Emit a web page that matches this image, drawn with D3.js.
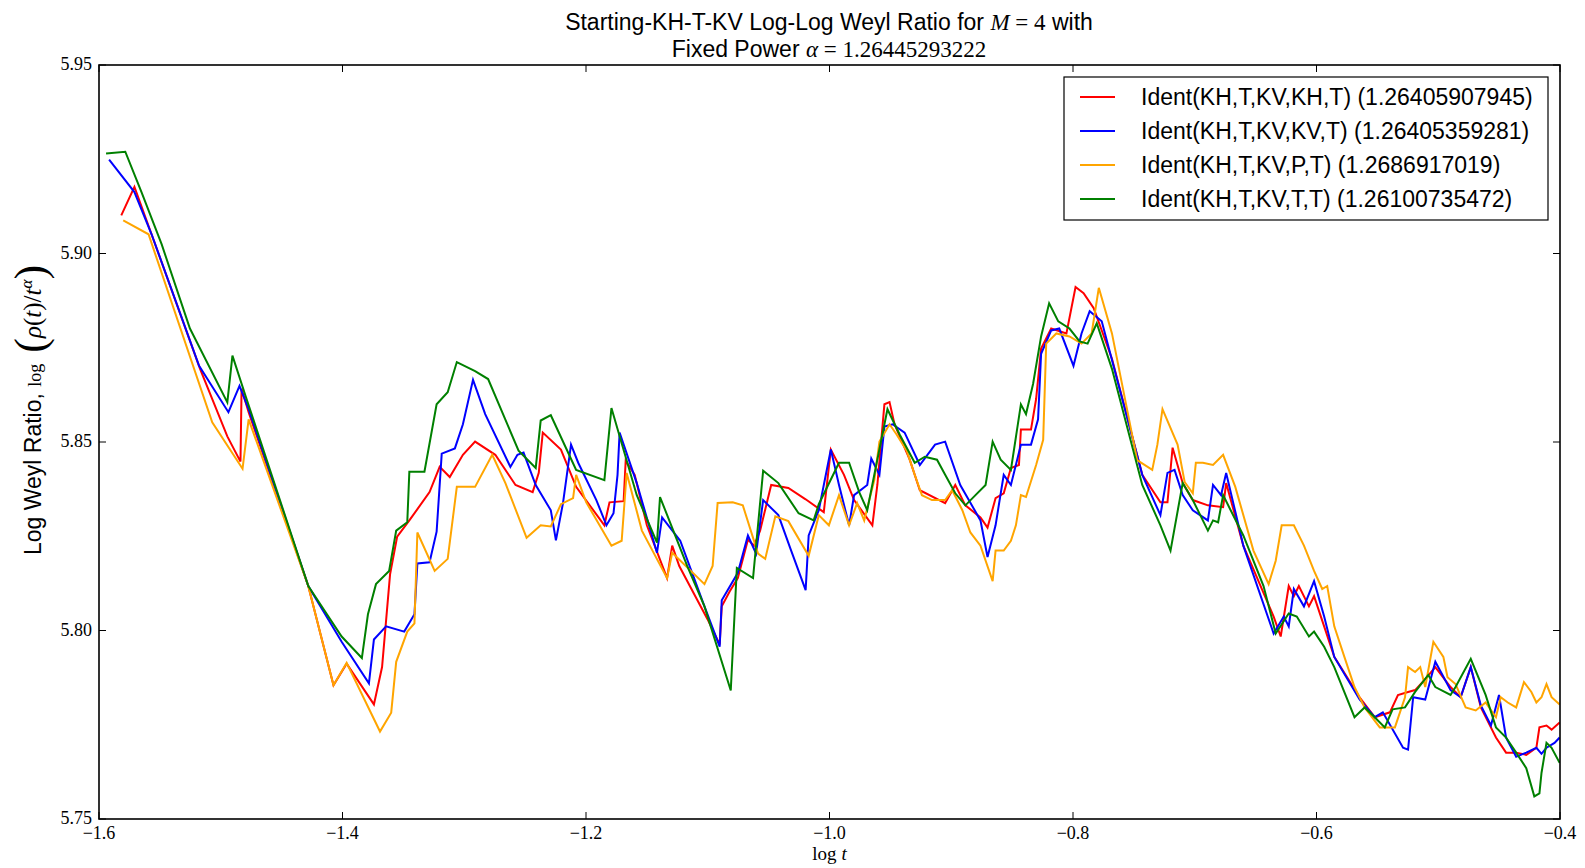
<!DOCTYPE html>
<html><head><meta charset="utf-8">
<script src="https://cdn.jsdelivr.net/npm/d3@7"></script>
<style>body{margin:0;background:#fff;} svg{display:block;}</style>
</head><body>
<svg id="c" width="1585" height="868"></svg>
<script>
const xTicks = [-1.6,-1.4,-1.2,-1.0,-0.8,-0.6,-0.4];
const xTickLabels = ["\u22121.6","\u22121.4","\u22121.2","\u22121.0","\u22120.8","\u22120.6","\u22120.4"];
const yTicks = [5.75,5.80,5.85,5.90,5.95];
const yTickLabels = ["5.75","5.80","5.85","5.90","5.95"];
const seriesNames = ["Ident(KH,T,KV,KH,T) (1.26405907945)","Ident(KH,T,KV,KV,T) (1.26405359281)","Ident(KH,T,KV,P,T) (1.2686917019)","Ident(KH,T,KV,T,T) (1.26100735472)"];
const seriesColors = ["#ff0000","#0000ff","#ffa500","#008000"];

const redData = [[-1.5817,5.9101],[-1.5709,5.9177],[-1.5170,5.8694],[-1.4946,5.8515],[-1.4838,5.8448],[-1.4829,5.8641],[-1.4771,5.8579],[-1.4281,5.8118],[-1.4074,5.7855],[-1.3966,5.7912],[-1.3742,5.7804],[-1.3675,5.7903],[-1.3609,5.8150],[-1.3551,5.8249],[-1.3451,5.8292],[-1.3285,5.8367],[-1.3202,5.8434],[-1.3119,5.8407],[-1.3011,5.8466],[-1.2911,5.8501],[-1.2745,5.8466],[-1.2579,5.8386],[-1.2438,5.8367],[-1.2388,5.8418],[-1.2355,5.8525],[-1.2206,5.8480],[-1.2081,5.8381],[-1.1849,5.8279],[-1.1807,5.8340],[-1.1691,5.8343],[-1.1674,5.8450],[-1.1600,5.8413],[-1.1500,5.8279],[-1.1334,5.8139],[-1.1292,5.8225],[-1.1234,5.8171],[-1.1002,5.8030],[-1.0902,5.7963],[-1.0885,5.8064],[-1.0819,5.8104],[-1.0753,5.8139],[-1.0670,5.8241],[-1.0620,5.8225],[-1.0570,5.8265],[-1.0479,5.8386],[-1.0338,5.8378],[-1.0196,5.8348],[-1.0047,5.8314],[-0.9989,5.8480],[-0.9881,5.8413],[-0.9798,5.8346],[-0.9648,5.8279],[-0.9607,5.8386],[-0.9549,5.8600],[-0.9507,5.8606],[-0.9466,5.8547],[-0.9341,5.8453],[-0.9258,5.8372],[-0.9050,5.8338],[-0.8967,5.8386],[-0.8884,5.8332],[-0.8760,5.8300],[-0.8702,5.8273],[-0.8636,5.8351],[-0.8569,5.8364],[-0.8510,5.8431],[-0.8444,5.8439],[-0.8428,5.8533],[-0.8345,5.8533],[-0.8303,5.8614],[-0.8262,5.8748],[-0.8179,5.8801],[-0.8054,5.8788],[-0.7979,5.8911],[-0.7913,5.8895],[-0.7830,5.8855],[-0.7680,5.8721],[-0.7431,5.8413],[-0.7282,5.8340],[-0.7224,5.8340],[-0.7182,5.8485],[-0.7099,5.8391],[-0.7016,5.8346],[-0.6892,5.8332],[-0.6767,5.8327],[-0.6742,5.8391],[-0.6601,5.8225],[-0.6352,5.8037],[-0.6294,5.7984],[-0.6228,5.8118],[-0.6186,5.8091],[-0.6145,5.8118],[-0.6062,5.8064],[-0.6020,5.8091],[-0.5854,5.7930],[-0.5646,5.7823],[-0.5522,5.7770],[-0.5397,5.7783],[-0.5331,5.7829],[-0.5248,5.7837],[-0.5190,5.7842],[-0.5107,5.7871],[-0.5024,5.7903],[-0.4899,5.7850],[-0.4816,5.7823],[-0.4733,5.7903],[-0.4650,5.7796],[-0.4526,5.7716],[-0.4443,5.7676],[-0.4360,5.7676],[-0.4277,5.7670],[-0.4194,5.7689],[-0.4169,5.7743],[-0.4111,5.7748],[-0.4069,5.7737],[-0.4003,5.7756]];

const blueData = [[-1.5917,5.9249],[-1.5709,5.9163],[-1.5568,5.9051],[-1.5178,5.8702],[-1.4937,5.8579],[-1.4846,5.8649],[-1.4771,5.8587],[-1.4281,5.8118],[-1.4007,5.7970],[-1.3783,5.7860],[-1.3742,5.7976],[-1.3642,5.8011],[-1.3493,5.7997],[-1.3409,5.8043],[-1.3385,5.8178],[-1.3285,5.8181],[-1.3227,5.8262],[-1.3185,5.8469],[-1.3077,5.8483],[-1.3011,5.8547],[-1.2928,5.8665],[-1.2828,5.8574],[-1.2621,5.8434],[-1.2563,5.8466],[-1.2513,5.8472],[-1.2413,5.8386],[-1.2289,5.8319],[-1.2247,5.8239],[-1.2189,5.8338],[-1.2123,5.8493],[-1.2064,5.8445],[-1.1915,5.8346],[-1.1832,5.8279],[-1.1774,5.8311],[-1.1741,5.8413],[-1.1724,5.8525],[-1.1583,5.8391],[-1.1417,5.8206],[-1.1375,5.8300],[-1.1226,5.8238],[-1.1027,5.8064],[-1.0902,5.7957],[-1.0885,5.8080],[-1.0753,5.8153],[-1.0670,5.8252],[-1.0603,5.8204],[-1.0545,5.8346],[-1.0420,5.8306],[-1.0321,5.8217],[-1.0196,5.8107],[-1.0171,5.8252],[-1.0088,5.8319],[-0.9989,5.8480],[-0.9922,5.8386],[-0.9839,5.8279],[-0.9798,5.8359],[-0.9690,5.8386],[-0.9657,5.8456],[-0.9590,5.8413],[-0.9549,5.8541],[-0.9482,5.8547],[-0.9383,5.8525],[-0.9258,5.8439],[-0.9133,5.8493],[-0.9050,5.8501],[-0.8926,5.8386],[-0.8760,5.8292],[-0.8702,5.8195],[-0.8636,5.8279],[-0.8569,5.8413],[-0.8510,5.8386],[-0.8428,5.8493],[-0.8345,5.8493],[-0.8287,5.8560],[-0.8262,5.8734],[-0.8179,5.8796],[-0.8113,5.8801],[-0.7996,5.8702],[-0.7930,5.8788],[-0.7863,5.8847],[-0.7764,5.8820],[-0.7431,5.8413],[-0.7282,5.8306],[-0.7224,5.8418],[-0.7166,5.8426],[-0.7099,5.8359],[-0.7016,5.8319],[-0.6892,5.8292],[-0.6850,5.8386],[-0.6784,5.8359],[-0.6742,5.8418],[-0.6601,5.8225],[-0.6352,5.7992],[-0.6269,5.8037],[-0.6228,5.8011],[-0.6186,5.8110],[-0.6103,5.8064],[-0.6020,5.8131],[-0.5937,5.8037],[-0.5854,5.7930],[-0.5646,5.7817],[-0.5522,5.7770],[-0.5455,5.7783],[-0.5289,5.7689],[-0.5248,5.7684],[-0.5206,5.7823],[-0.5107,5.7817],[-0.5024,5.7917],[-0.4899,5.7842],[-0.4816,5.7823],[-0.4733,5.7903],[-0.4650,5.7801],[-0.4567,5.7748],[-0.4501,5.7829],[-0.4443,5.7716],[-0.4360,5.7665],[-0.4277,5.7676],[-0.4194,5.7689],[-0.4152,5.7673],[-0.4111,5.7689],[-0.4045,5.7702],[-0.4003,5.7716]];

const orangeData = [[-1.5801,5.9088],[-1.5593,5.9051],[-1.5070,5.8552],[-1.4821,5.8429],[-1.4771,5.8560],[-1.4281,5.8118],[-1.4074,5.7855],[-1.3966,5.7914],[-1.3692,5.7732],[-1.3600,5.7782],[-1.3559,5.7917],[-1.3468,5.7997],[-1.3409,5.8019],[-1.3385,5.8260],[-1.3243,5.8158],[-1.3136,5.8190],[-1.3061,5.8381],[-1.2911,5.8381],[-1.2770,5.8466],[-1.2662,5.8391],[-1.2488,5.8246],[-1.2372,5.8279],[-1.2289,5.8276],[-1.2206,5.8335],[-1.2106,5.8351],[-1.2081,5.8413],[-1.1998,5.8340],[-1.1791,5.8225],[-1.1707,5.8238],[-1.1666,5.8418],[-1.1541,5.8265],[-1.1334,5.8139],[-1.1292,5.8206],[-1.1027,5.8123],[-1.0960,5.8171],[-1.0919,5.8338],[-1.0795,5.8340],[-1.0712,5.8332],[-1.0587,5.8204],[-1.0528,5.8190],[-1.0445,5.8303],[-1.0338,5.8290],[-1.0171,5.8198],[-1.0088,5.8306],[-1.0005,5.8279],[-0.9922,5.8359],[-0.9839,5.8279],[-0.9773,5.8338],[-0.9715,5.8292],[-0.9632,5.8399],[-0.9590,5.8501],[-0.9507,5.8547],[-0.9449,5.8520],[-0.9366,5.8477],[-0.9300,5.8413],[-0.9241,5.8359],[-0.9158,5.8346],[-0.9050,5.8346],[-0.8992,5.8372],[-0.8909,5.8319],[-0.8843,5.8260],[-0.8760,5.8225],[-0.8660,5.8131],[-0.8636,5.8212],[-0.8569,5.8212],[-0.8510,5.8238],[-0.8469,5.8279],[-0.8428,5.8359],[-0.8386,5.8354],[-0.8303,5.8439],[-0.8245,5.8506],[-0.8220,5.8761],[-0.8137,5.8788],[-0.8029,5.8780],[-0.7930,5.8761],[-0.7847,5.8788],[-0.7788,5.8909],[-0.7680,5.8788],[-0.7473,5.8452],[-0.7349,5.8426],[-0.7307,5.8493],[-0.7265,5.8587],[-0.7141,5.8493],[-0.7083,5.8394],[-0.7016,5.8364],[-0.6991,5.8445],[-0.6933,5.8445],[-0.6850,5.8439],[-0.6767,5.8466],[-0.6667,5.8381],[-0.6518,5.8212],[-0.6393,5.8123],[-0.6335,5.8185],[-0.6286,5.8279],[-0.6186,5.8279],[-0.6103,5.8225],[-0.6020,5.8158],[-0.5953,5.8110],[-0.5912,5.8118],[-0.5854,5.8011],[-0.5771,5.7930],[-0.5688,5.7850],[-0.5605,5.7796],[-0.5480,5.7743],[-0.5356,5.7743],[-0.5273,5.7823],[-0.5248,5.7903],[-0.5190,5.7890],[-0.5148,5.7903],[-0.5107,5.7850],[-0.5040,5.7970],[-0.4958,5.7930],[-0.4924,5.7876],[-0.4858,5.7858],[-0.4775,5.7796],[-0.4692,5.7788],[-0.4611,5.7809],[-0.4526,5.7770],[-0.4487,5.7823],[-0.4429,5.7809],[-0.4360,5.7796],[-0.4296,5.7863],[-0.4235,5.7837],[-0.4194,5.7809],[-0.4152,5.7823],[-0.4111,5.7858],[-0.4069,5.7823],[-0.4003,5.7804]];

const greenData = [[-1.5942,5.9265],[-1.5784,5.9270],[-1.5651,5.9163],[-1.5485,5.9024],[-1.5253,5.8801],[-1.4946,5.8605],[-1.4904,5.8729],[-1.4796,5.8622],[-1.4281,5.8118],[-1.4007,5.7984],[-1.3841,5.7927],[-1.3791,5.8043],[-1.3725,5.8123],[-1.3617,5.8158],[-1.3559,5.8265],[-1.3468,5.8287],[-1.3451,5.8421],[-1.3327,5.8421],[-1.3227,5.8600],[-1.3136,5.8632],[-1.3061,5.8712],[-1.2911,5.8688],[-1.2804,5.8667],[-1.2554,5.8477],[-1.2413,5.8431],[-1.2372,5.8557],[-1.2289,5.8571],[-1.2081,5.8426],[-1.1849,5.8399],[-1.1791,5.8590],[-1.1583,5.8359],[-1.1417,5.8233],[-1.1392,5.8354],[-1.1168,5.8171],[-1.1027,5.8064],[-1.0811,5.7841],[-1.0761,5.8166],[-1.0628,5.8139],[-1.0545,5.8424],[-1.0420,5.8391],[-1.0254,5.8311],[-1.0130,5.8292],[-1.0088,5.8335],[-0.9922,5.8445],[-0.9839,5.8445],[-0.9756,5.8367],[-0.9690,5.8319],[-0.9632,5.8413],[-0.9524,5.8587],[-0.9424,5.8520],[-0.9300,5.8445],[-0.9217,5.8461],[-0.9117,5.8453],[-0.9050,5.8413],[-0.8967,5.8364],[-0.8884,5.8332],[-0.8801,5.8359],[-0.8718,5.8386],[-0.8660,5.8501],[-0.8594,5.8453],[-0.8510,5.8426],[-0.8428,5.8600],[-0.8386,5.8574],[-0.8328,5.8654],[-0.8262,5.8780],[-0.8196,5.8868],[-0.8121,5.8820],[-0.8029,5.8801],[-0.7946,5.8767],[-0.7880,5.8761],[-0.7805,5.8815],[-0.7680,5.8694],[-0.7431,5.8386],[-0.7282,5.8279],[-0.7199,5.8212],[-0.7099,5.8391],[-0.7016,5.8346],[-0.6892,5.8265],[-0.6850,5.8292],[-0.6808,5.8287],[-0.6767,5.8359],[-0.6601,5.8252],[-0.6435,5.8118],[-0.6335,5.7992],[-0.6228,5.8045],[-0.6162,5.8037],[-0.6062,5.7984],[-0.6020,5.7997],[-0.5937,5.7957],[-0.5854,5.7903],[-0.5688,5.7770],[-0.5605,5.7796],[-0.5522,5.7770],[-0.5439,5.7743],[-0.5375,5.7791],[-0.5273,5.7796],[-0.5190,5.7837],[-0.5082,5.7882],[-0.5024,5.7850],[-0.4899,5.7829],[-0.4858,5.7850],[-0.4733,5.7925],[-0.4611,5.7829],[-0.4526,5.7743],[-0.4443,5.7716],[-0.4360,5.7676],[-0.4277,5.7635],[-0.4211,5.7560],[-0.4169,5.7568],[-0.4152,5.7622],[-0.4111,5.7702],[-0.4069,5.7689],[-0.4003,5.7649]];

const allSeries = [redData, blueData, orangeData, greenData];

const svg = d3.select("#c");
const L = 99, R = 1560, T = 65, B = 819;
const x = d3.scaleLinear().domain([-1.6, -0.4]).range([L, R]);
const y = d3.scaleLinear().domain([5.75, 5.95]).range([B, T]);

svg.append("rect").attr("width",1585).attr("height",868).attr("fill","#fff");

svg.append("defs").append("clipPath").attr("id","clip")
  .append("rect").attr("x",L).attr("y",T).attr("width",R-L).attr("height",B-T);

const line = d3.line().x(d => x(d[0])).y(d => y(d[1]));
const g = svg.append("g").attr("clip-path","url(#clip)");
allSeries.forEach((s,i) => {
  g.append("path").datum(s).attr("d", line)
    .attr("fill","none").attr("stroke", seriesColors[i])
    .attr("stroke-width", 2).attr("stroke-linejoin","miter");
});

const tk = svg.append("g").attr("stroke","#000").attr("stroke-width",1);
xTicks.forEach(v => {
  tk.append("line").attr("x1",x(v)).attr("x2",x(v)).attr("y1",B).attr("y2",B-7);
  tk.append("line").attr("x1",x(v)).attr("x2",x(v)).attr("y1",T).attr("y2",T+7);
});
yTicks.forEach(v => {
  tk.append("line").attr("y1",y(v)).attr("y2",y(v)).attr("x1",L).attr("x2",L+7);
  tk.append("line").attr("y1",y(v)).attr("y2",y(v)).attr("x1",R).attr("x2",R-7);
});

svg.append("rect").attr("x",L).attr("y",T).attr("width",R-L).attr("height",B-T)
  .attr("fill","none").attr("stroke","#000").attr("stroke-width",1.6);

const serif = "'Liberation Serif','DejaVu Serif',serif";
const sans = "'Liberation Sans',Arial,sans-serif";

xTicks.forEach((v,i) => {
  svg.append("text").attr("x", x(v)).attr("y", 839).attr("text-anchor","middle")
    .attr("font-family", serif).attr("font-size", 18).text(xTickLabels[i]);
});
yTicks.forEach((v,i) => {
  svg.append("text").attr("x", 92).attr("y", y(v)+5).attr("text-anchor","end")
    .attr("font-family", serif).attr("font-size", 18).text(yTickLabels[i]);
});

const xl = svg.append("text").attr("x", (L+R)/2).attr("y", 860).attr("text-anchor","middle")
  .attr("font-family", serif).attr("font-size", 19);
xl.append("tspan").text("log ");
xl.append("tspan").attr("font-style","italic").text("t");

const yl = svg.append("text").attr("transform","translate(41,410) rotate(-90)")
  .attr("text-anchor","middle").attr("font-family", sans).attr("font-size", 23);
yl.append("tspan").text("Log Weyl Ratio, ");
yl.append("tspan").attr("font-family", serif).attr("font-size", 18).text("log");
yl.append("tspan").attr("font-family", serif).attr("font-size", 44).attr("dy", 4).text(" (");
yl.append("tspan").attr("font-family", serif).attr("font-style","italic").attr("font-size", 25).attr("dy",-4).text("ρ");
yl.append("tspan").attr("font-family", serif).attr("font-size", 25).text("(");
yl.append("tspan").attr("font-family", serif).attr("font-style","italic").attr("font-size", 25).text("t");
yl.append("tspan").attr("font-family", serif).attr("font-size", 25).text(")/");
yl.append("tspan").attr("font-family", serif).attr("font-style","italic").attr("font-size", 25).text("t");
yl.append("tspan").attr("font-family", serif).attr("font-style","italic").attr("font-size", 17).attr("dy",-9).text("α");
yl.append("tspan").attr("font-family", serif).attr("font-size", 44).attr("dy", 13).text(")");

const t1 = svg.append("text").attr("x", 829).attr("y", 30).attr("text-anchor","middle")
  .attr("font-family", sans).attr("font-size", 23);
t1.append("tspan").text("Starting-KH-T-KV Log-Log Weyl Ratio for ");
t1.append("tspan").attr("font-family", serif).attr("font-style","italic").text("M");
t1.append("tspan").attr("font-family", serif).text(" = 4");
t1.append("tspan").text(" with");
const t2 = svg.append("text").attr("x", 829).attr("y", 57).attr("text-anchor","middle")
  .attr("font-family", sans).attr("font-size", 23);
t2.append("tspan").text("Fixed Power ");
t2.append("tspan").attr("font-family", serif).attr("font-style","italic").text("α");
t2.append("tspan").attr("font-family", serif).text(" = 1.26445293222");

const lg = svg.append("g");
lg.append("rect").attr("x",1064).attr("y",77).attr("width",484).attr("height",143)
  .attr("fill","#fff").attr("stroke","#000").attr("stroke-width",1.2);
seriesNames.forEach((n,i) => {
  const yy = 97 + i*34;
  lg.append("line").attr("x1",1080).attr("x2",1115).attr("y1",yy).attr("y2",yy)
    .attr("stroke", seriesColors[i]).attr("stroke-width",2);
  lg.append("text").attr("x",1141).attr("y",yy+8).attr("font-family",sans)
    .attr("font-size",23).text(n);
});
</script>
</body></html>
